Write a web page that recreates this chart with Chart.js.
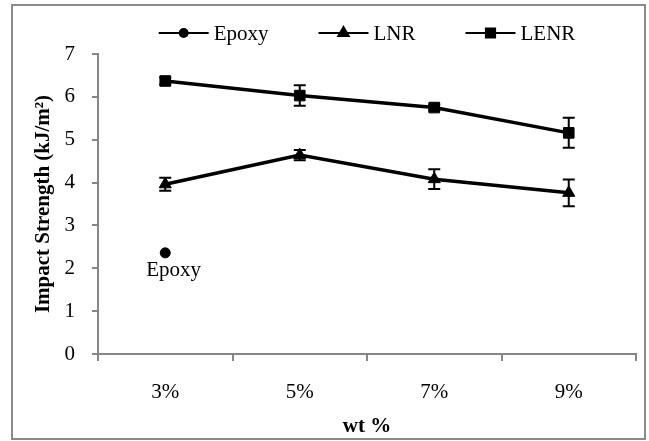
<!DOCTYPE html>
<html>
<head>
<meta charset="utf-8">
<script src="https://cdn.jsdelivr.net/npm/chart.js@4.4.1/dist/chart.umd.min.js"></script>
<style>
  html, body { margin: 0; padding: 0; background: #fff; }
  #wrap { width: 649px; height: 441px; position: relative; }
</style>
</head>
<body>
<div id="wrap"><canvas id="chart" width="649" height="441"></canvas></div>
<script>
// data
const categories = ['3%', '5%', '7%', '9%'];
const epoxyValues = [2.36, null, null, null];
const lnrValues = [3.96, 4.64, 4.08, 3.76];
const lnrErrors = [0.15, 0.12, 0.23, 0.31];
const lenrValues = [6.37, 6.03, 5.75, 5.16];
const lenrErrors = [0.08, 0.24, 0.07, 0.35];
const epoxyLabel = 'Epoxy';

const FONT = '"Liberation Serif", "Times New Roman", serif';
const AXIS_GRAY = '#868686';

function makeDataset(label, data, pointStyle, radius, errors) {
    return {
        label,
        data,
        errors,
        borderColor: '#000',
        backgroundColor: '#000',
        borderWidth: 3.5,
        pointStyle,
        pointRadius: radius,
        pointBorderWidth: 1,
        pointHoverRadius: radius,
        tension: 0
    };
}

// outer frame like the office chart border
const framePlugin = {
    id: 'frame',
    beforeDraw(chart) {
        const ctx = chart.ctx;
        ctx.save();
        ctx.fillStyle = '#fff';
        ctx.fillRect(0, 0, chart.width, chart.height);
        ctx.strokeStyle = '#8a8a8a';
        ctx.lineWidth = 2;
        ctx.strokeRect(12, 5, 633, 434);
        ctx.restore();
    }
};

const errorBarPlugin = {
    id: 'errorBars',
    afterDatasetsDraw(chart) {
        const ctx = chart.ctx;
        const y = chart.scales.y;
        chart.data.datasets.forEach((ds, i) => {
            if (!ds.errors) return;
            const meta = chart.getDatasetMeta(i);
            ctx.save();
            ctx.strokeStyle = '#000';
            ctx.lineWidth = 2;
            ds.data.forEach((v, j) => {
                if (v == null) return;
                const x = meta.data[j].x;
                const top = y.getPixelForValue(v + ds.errors[j]);
                const bot = y.getPixelForValue(v - ds.errors[j]);
                ctx.beginPath();
                ctx.moveTo(x, top); ctx.lineTo(x, bot);
                ctx.moveTo(x - 6, top); ctx.lineTo(x + 6, top);
                ctx.moveTo(x - 6, bot); ctx.lineTo(x + 6, bot);
                ctx.stroke();
            });
            ctx.restore();
        });
    }
};

const epoxyLabelPlugin = {
    id: 'epoxyLabel',
    afterDatasetsDraw(chart) {
        const pt = chart.getDatasetMeta(0).data[0];
        const ctx = chart.ctx;
        ctx.save();
        ctx.font = '21px ' + FONT;
        ctx.fillStyle = '#000';
        ctx.textAlign = 'left';
        ctx.textBaseline = 'middle';
        ctx.fillText(epoxyLabel, pt.x - 19, pt.y + 18);
        ctx.restore();
    }
};

// legend drawn as line-marker-line like the original
const legendPlugin = {
    id: 'lineLegend',
    afterDraw(chart) {
        const ctx = chart.ctx;
        const lineLen = 50, gap = 50, textGap = 5, yMid = 33;
        ctx.save();
        ctx.font = '21px ' + FONT;
        const items = chart.data.datasets.map(ds => ({ ds, w: lineLen + textGap + ctx.measureText(ds.label).width }));
        const total = items.reduce((s, it) => s + it.w, 0) + gap * (items.length - 1);
        let x = (chart.chartArea.left + chart.chartArea.right) / 2 - total / 2;
        items.forEach(({ ds, w }) => {
            ctx.strokeStyle = '#000';
            ctx.lineWidth = 2;
            ctx.beginPath();
            ctx.moveTo(x, yMid); ctx.lineTo(x + lineLen, yMid);
            ctx.stroke();
            ctx.fillStyle = '#000';
            Chart.helpers.drawPoint(ctx, {
                pointStyle: ds.pointStyle,
                radius: ds.pointRadius - 1,
                rotation: 0,
                borderWidth: 1
            }, x + lineLen / 2, yMid);
            ctx.fillStyle = '#000';
            ctx.textAlign = 'left';
            ctx.textBaseline = 'middle';
            ctx.fillText(ds.label, x + lineLen + textGap, yMid + 1);
            x += w + gap;
        });
        ctx.restore();
    }
};

new Chart(document.getElementById('chart'), {
    type: 'line',
    data: {
        labels: categories,
        datasets: [
            Object.assign(makeDataset('Epoxy', epoxyValues, 'circle', 5, null), { showLine: false }),
            makeDataset('LNR', lnrValues, 'triangle', 7, lnrErrors),
            makeDataset('LENR', lenrValues, 'rect', 7.5, lenrErrors)
        ]
    },
    options: {
        responsive: false,
        animation: false,
        devicePixelRatio: 1,
        layout: { padding: { top: 54, right: 13, bottom: 2, left: 0 } },
        plugins: {
            legend: { display: false },
            tooltip: { enabled: false }
        },
        scales: {
            x: {
                type: 'category',
                offset: true,
                grid: {
                    offset: true,
                    drawOnChartArea: false,
                    tickLength: 7,
                    color: AXIS_GRAY,
                    lineWidth: 2
                },
                border: { color: AXIS_GRAY, width: 2 },
                ticks: { color: '#000', font: { family: FONT, size: 21 }, padding: 19, maxRotation: 0 },
                title: {
                    display: true,
                    text: 'wt %',
                    color: '#000',
                    font: { family: FONT, size: 21, weight: 'bold' },
                    padding: 0
                },
                afterFit(scale) { scale.height = 85; }
            },
            y: {
                min: 0,
                max: 7,
                ticks: { stepSize: 1, color: '#000', font: { family: FONT, size: 21 }, padding: 17 },
                grid: {
                    drawOnChartArea: false,
                    tickLength: 6,
                    color: AXIS_GRAY,
                    lineWidth: 2
                },
                border: { color: AXIS_GRAY, width: 2 },
                title: {
                    display: true,
                    text: 'Impact Strength (kJ/m²)',
                    color: '#000',
                    font: { family: FONT, size: 21, weight: 'bold' },
                    padding: { top: 31, bottom: 0 }
                },
                afterFit(scale) { scale.width = 98; }
            }
        }
    },
    plugins: [framePlugin, errorBarPlugin, epoxyLabelPlugin, legendPlugin]
});
</script>
</body>
</html>
